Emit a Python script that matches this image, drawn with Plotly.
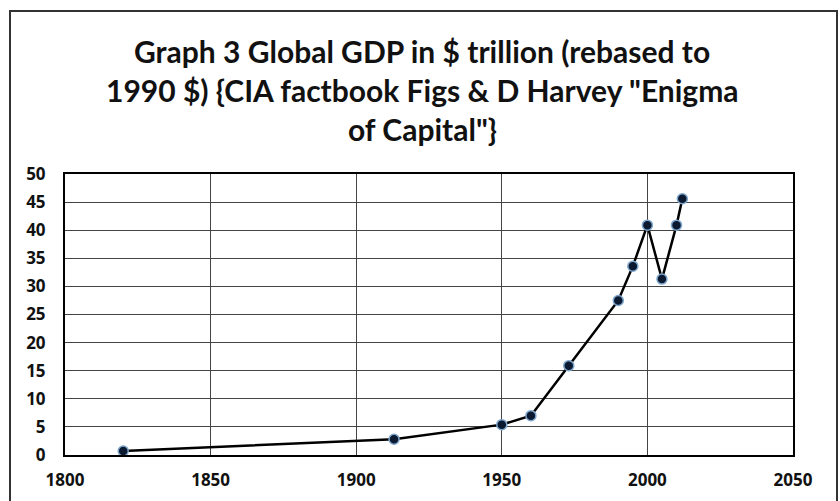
import plotly.graph_objects as go

years = [1820, 1913, 1950, 1960, 1973, 1990, 1995, 2000, 2005, 2010, 2012]
gdp = [0.7, 2.8, 5.4, 7.0, 15.9, 27.5, 33.6, 40.9, 31.3, 40.9, 45.6]
x_ticks = [1800, 1850, 1900, 1950, 2000, 2050]
y_ticks = [0, 5, 10, 15, 20, 25, 30, 35, 40, 45, 50]
title_lines = ["Graph 3 Global GDP in $ trillion (rebased to",
               "1990 $) {CIA factbook Figs &amp; D Harvey \"Enigma",
               "of Capital\"}"]

fig = go.Figure()
fig.add_trace(go.Scatter(
    x=years, y=gdp, mode="lines+markers",
    line=dict(color="#000000", width=2.5),
    marker=dict(size=10, color="#0b1a30", line=dict(color="#7fa6cc", width=1.5)),
    showlegend=False, cliponaxis=False,
))

W, H = 840, 501
L, R, T, B = 65, 47, 174, 46
pw = W - L - R
ph = H - T - B

# outer chart frame
fig.add_shape(type="rect", xref="paper", yref="paper",
              x0=(10 - L) / pw, x1=(837 - L) / pw,
              y0=(H - B - 520) / ph, y1=(H - B - 11) / ph,
              line=dict(color="#333333", width=2), layer="below")

# title lines (centre of each text line in page pixels)
for line, cy in zip(title_lines, [51, 90, 129]):
    fig.add_annotation(text=line, xref="paper", yref="paper",
                       x=(422 - L) / pw, y=(H - B - cy) / ph,
                       xanchor="center", yanchor="middle", showarrow=False,
                       font=dict(family="Lato", size=30, color="#111111", weight="bold"))

fig.update_layout(
    width=W, height=H,
    margin=dict(l=L, r=R, t=T, b=B, autoexpand=False),
    paper_bgcolor="white", plot_bgcolor="white",
    xaxis=dict(range=[1800, 2050], tickvals=x_ticks, showgrid=True, automargin=False,
               gridcolor="#444444", gridwidth=1.3, zeroline=False,
               showline=True, linecolor="#000000", linewidth=2, mirror=True,
               ticks="outside", ticklen=9, tickcolor="rgba(0,0,0,0)",
               tickfont=dict(family="Open Sans", size=17, color="#111111", weight="bold")),
    yaxis=dict(range=[0, 50], tickvals=y_ticks, showgrid=True, automargin=False,
               gridcolor="#444444", gridwidth=1.3, zeroline=False,
               showline=True, linecolor="#000000", linewidth=2, mirror=True,
               ticks="outside", ticklen=14, tickcolor="rgba(0,0,0,0)",
               tickfont=dict(family="Open Sans", size=17, color="#111111", weight="bold")),
)

fig.write_html("out.html")
